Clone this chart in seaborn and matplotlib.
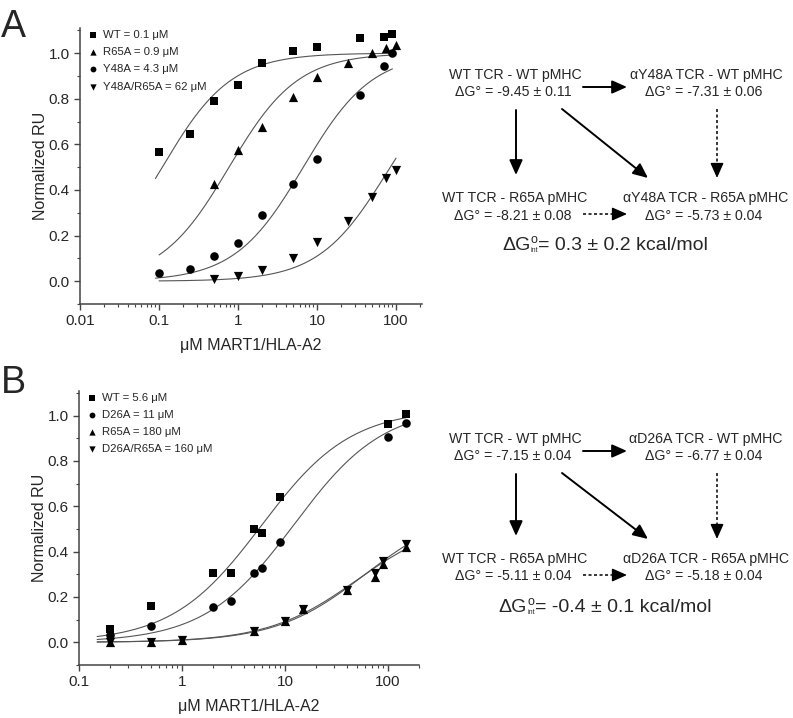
import numpy as np
import pandas as pd
import matplotlib
matplotlib.use('Agg')
import matplotlib.pyplot as plt
from matplotlib.ticker import LogLocator, MultipleLocator, FixedLocator, NullFormatter
import seaborn as sns

sns.set_style('ticks')
plt.rcParams['font.family'] = ['Liberation Sans', 'DejaVu Sans']

#
# panel A data
#
a_labels = ['WT = 0.1 μM', 'R65A = 0.9 μM', 'Y48A = 4.3 μM', 'Y48A/R65A = 62 μM']
a_markers = ['s', '^', 'o', 'v']
a_wt_x = [0.1, 0.25, 0.5, 1, 2, 5, 10, 35, 70, 90]
a_wt_y = [0.567, 0.647, 0.79, 0.86, 0.955, 1.007, 1.025, 1.064, 1.072, 1.082]
a_r65a_x = [0.5, 1, 2, 5, 10, 25, 50, 75, 100]
a_r65a_y = [0.427, 0.577, 0.678, 0.809, 0.897, 0.958, 1.0, 1.022, 1.034]
a_y48a_x = [0.1, 0.25, 0.5, 1, 2, 5, 10, 35, 70, 90]
a_y48a_y = [0.035, 0.054, 0.111, 0.166, 0.291, 0.427, 0.536, 0.815, 0.945, 1.0]
a_dbl_x = [0.5, 1, 2, 5, 10, 25, 50, 75, 100]
a_dbl_y = [0.01, 0.024, 0.047, 0.1, 0.171, 0.263, 0.367, 0.451, 0.486]
# fitted 1:1 binding curves: Kd, Bmax, x-range
a_fit_kd = [0.11, 0.77, 6.7, 77]
a_fit_bmax = [1.0, 1.0, 1.0, 0.955]
a_fit_lo = [0.09, 0.1, 0.09, 0.1]
a_fit_hi = [100, 100, 90, 100]

#
# panel B data
#
b_labels = ['WT = 5.6 μM', 'D26A = 11 μM', 'R65A = 180 μM', 'D26A/R65A = 160 μM']
b_markers = ['s', 'o', '^', 'v']
b_wt_x = [0.2, 0.5, 2, 3, 5, 6, 9, 100, 150]
b_wt_y = [0.061, 0.16, 0.307, 0.305, 0.499, 0.483, 0.641, 0.962, 1.009]
b_d26a_x = [0.2, 0.5, 2, 3, 5, 6, 9, 100, 150]
b_d26a_y = [0.031, 0.072, 0.158, 0.184, 0.307, 0.327, 0.441, 0.905, 0.966]
b_r65a_x = [0.2, 0.5, 1, 5, 10, 15, 40, 75, 90, 150]
b_r65a_y = [0.0, 0.0, 0.012, 0.048, 0.095, 0.147, 0.231, 0.29, 0.346, 0.42]
b_dbl_x = [0.2, 0.5, 1, 5, 10, 15, 40, 75, 90, 150]
b_dbl_y = [0.0, 0.0, 0.012, 0.048, 0.095, 0.147, 0.231, 0.305, 0.36, 0.433]
b_fit_kd = [5.9, 12.3, 50, 60]
b_fit_bmax = [1.03, 1.042, 0.55, 0.6]
b_fit_lo = [0.15, 0.15, 0.15, 0.15]
b_fit_hi = [150, 150, 150, 150]

marker_size = {'s': 32, 'o': 38, '^': 44, 'v': 44}


def binding_panel(ax, xs, ys, labels, markers, kd, bmax, lo, hi, xlim, xticks, xticklabels):
    for x, y, lab, m in zip(xs, ys, labels, markers):
        df = pd.DataFrame({'conc': x, 'ru': y})
        sns.scatterplot(data=df, x='conc', y='ru', marker=m, s=marker_size[m],
                        color='black', linewidth=0, ax=ax, label=lab, zorder=3)
    for k, b, l, h in zip(kd, bmax, lo, hi):
        cx = np.logspace(np.log10(l), np.log10(h), 200)
        fit = pd.DataFrame({'conc': cx, 'ru': b * cx / (k + cx)})
        sns.lineplot(data=fit, x='conc', y='ru', color='#555555', lw=0.8, ax=ax,
                     legend=False, zorder=2)
    ax.set_xscale('log')
    ax.set_xlim(*xlim)
    ax.set_ylim(-0.1, 1.11)
    ax.xaxis.set_major_locator(FixedLocator(xticks))
    ax.set_xticklabels(xticklabels)
    ax.xaxis.set_minor_locator(LogLocator(base=10, subs=np.arange(2, 10)))
    ax.xaxis.set_minor_formatter(NullFormatter())
    ax.set_yticks([0.0, 0.2, 0.4, 0.6, 0.8, 1.0])
    ax.set_yticklabels(['0.0', '0.2', '0.4', '0.6', '0.8', '1.0'])
    ax.yaxis.set_minor_locator(MultipleLocator(0.1))
    sns.despine(ax=ax)
    for s in ['left', 'bottom']:
        ax.spines[s].set_linewidth(1.1)
        ax.spines[s].set_color('#444444')
    ax.tick_params(which='major', direction='out', length=4.5, width=1.0,
                   color='#444444', labelsize=11, pad=3)
    ax.tick_params(which='minor', direction='out', length=2.5, width=0.8, color='#444444')
    ax.set_ylabel('Normalized RU', fontsize=11.5, labelpad=0.5)
    ax.set_xlabel('μM MART1/HLA-A2', fontsize=11.5, labelpad=7)
    ax.legend(loc='upper left', bbox_to_anchor=(0.007, 1.008), frameon=False,
              fontsize=8.2, handletextpad=0.4, labelspacing=0.62, borderaxespad=0,
              markerscale=0.68, handlelength=1.0)


fig = plt.figure(figsize=(7.93, 7.18), dpi=100)
ax_a = fig.add_axes([80 / 793, 1 - 304 / 718, 342 / 793, 276 / 718])
ax_b = fig.add_axes([79 / 793, 1 - 665 / 718, 340 / 793, 274.3 / 718])

binding_panel(ax_a, [a_wt_x, a_r65a_x, a_y48a_x, a_dbl_x],
              [a_wt_y, a_r65a_y, a_y48a_y, a_dbl_y], a_labels, a_markers,
              a_fit_kd, a_fit_bmax, a_fit_lo, a_fit_hi,
              (0.01, 213), [0.01, 0.1, 1, 10, 100], ['0.01', '0.1', '1', '10', '100'])
binding_panel(ax_b, [b_wt_x, b_d26a_x, b_r65a_x, b_dbl_x],
              [b_wt_y, b_d26a_y, b_r65a_y, b_dbl_y], b_labels, b_markers,
              b_fit_kd, b_fit_bmax, b_fit_lo, b_fit_hi,
              (0.1, 200), [0.1, 1, 10, 100], ['0.1', '1', '10', '100'])

fig.text(1 / 793, 1 - 37 / 718, 'A', fontsize=27, va='baseline', ha='left')
fig.text(1 / 793, 1 - 393 / 718, 'B', fontsize=27, va='baseline', ha='left')

#
# thermodynamic cycles, drawn in pixel coordinates
#
dax = fig.add_axes([0, 0, 1, 1], zorder=-1)
dax.set_xlim(0, 793)
dax.set_ylim(718, 0)
dax.axis('off')

a_nodes = ['WT TCR - WT pMHC', 'αY48A TCR - WT pMHC', 'WT TCR - R65A pMHC', 'αY48A TCR - R65A pMHC']
a_dg = ['-9.45 ± 0.11', '-7.31 ± 0.06', '-8.21 ± 0.08', '-5.73 ± 0.04']
a_int = '0.3 ± 0.2'
b_nodes = ['WT TCR - WT pMHC', 'αD26A TCR - WT pMHC', 'WT TCR - R65A pMHC', 'αD26A TCR - R65A pMHC']
b_dg = ['-7.15 ± 0.04', '-6.77 ± 0.04', '-5.11 ± 0.04', '-5.18 ± 0.04']
b_int = '-0.4 ± 0.1'

head = '-|>,head_length=0.9,head_width=0.4'
renderer = fig.canvas.get_renderer()


def px_width(t):
    return t.get_window_extent(renderer=renderer).width


def solid_arrow(x0, y0, x1, y1):
    dax.annotate('', xy=(x1, y1), xytext=(x0, y0),
                 arrowprops=dict(arrowstyle=head, color='black', lw=1.4,
                                 shrinkA=0, shrinkB=0))


def dashed_arrow(x0, y0, x1, y1):
    d = np.hypot(x1 - x0, y1 - y0)
    ux, uy = (x1 - x0) / d, (y1 - y0) / d
    dax.plot([x0, x1 - 10 * ux], [y0, y1 - 10 * uy], color='black', lw=1.1,
             ls=(0, (2, 1.6)))
    dax.annotate('', xy=(x1, y1), xytext=(x1 - 13 * ux, y1 - 13 * uy),
                 arrowprops=dict(arrowstyle=head, color='black', lw=1.1,
                                 shrinkA=0, shrinkB=0))


def interaction_text(cx, cy, value):
    # "ΔG" + small superscript o / tiny subscript int + "= value kcal/mol"
    parts = [dax.text(0, cy, 'ΔG', fontsize=14, ha='left', va='center'),
             dax.text(0, cy - 5, 'o', fontsize=9, ha='left', va='center'),
             dax.text(0, cy + 6, 'int', fontsize=5, ha='left', va='center'),
             dax.text(0, cy, '= ' + value + ' kcal/mol', fontsize=14, ha='left', va='center')]
    w = [px_width(p) for p in parts]
    mid = max(w[1], w[2])
    x = cx - (w[0] + mid + w[3]) / 2
    parts[0].set_x(x)
    parts[1].set_x(x + w[0] + (mid - w[1]) / 2)
    parts[2].set_x(x + w[0])
    parts[3].set_x(x + w[0] + mid)


def cycle(nodes, dgs, dgint, y_top, y_bot, y_int):
    cols = [515, 706, 515, 706]
    rows = [y_top, y_top, y_bot, y_bot]
    for name, dg, cx, cy in zip(nodes, dgs, cols, rows):
        dax.text(cx, cy, name, ha='center', va='center', fontsize=10.2)
        dax.text(cx - 2, cy + 17.5, 'ΔG° = ' + dg, ha='center',
                 va='center', fontsize=10.2)
    interaction_text(605, y_int, dgint)
    solid_arrow(583, y_top + 12, 627, y_top + 12)
    solid_arrow(516, y_top + 35, 516, y_bot - 23)
    solid_arrow(562, y_top + 34, 648, y_bot - 20)
    dashed_arrow(717, y_top + 34, 717, y_bot - 20)
    dashed_arrow(583, y_bot + 16, 627, y_bot + 16)


cycle(a_nodes, a_dg, a_int, 75, 198, 245)
cycle(b_nodes, b_dg, b_int, 439, 559, 607)

fig.savefig('out.png', dpi=100)
